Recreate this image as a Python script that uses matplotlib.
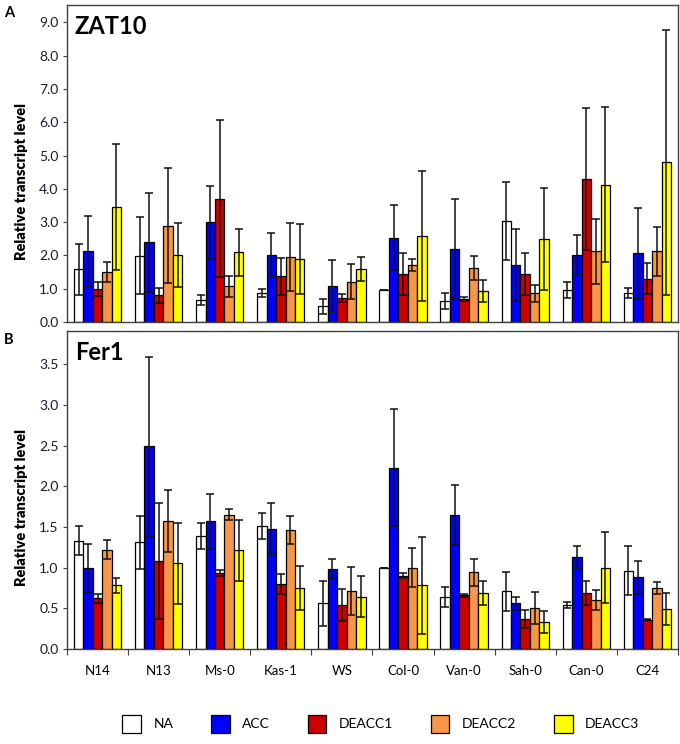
import numpy as np
import matplotlib.pyplot as plt

plt.rcParams['font.family'] = ['Lato', 'DejaVu Sans']

accessions = ["N14", "N13", "Ms-0", "Kas-1", "WS", "Col-0", "Van-0", "Sah-0", "Can-0", "C24"]
treatments = ["NA", "ACC", "DEACC1", "DEACC2", "DEACC3"]
colors = ["#FFFFFF", "#0000FF", "#CC0000", "#F79646", "#FFFF00"]

# ZAT10 means / sd
zat10_na = [1.58, 1.99, 0.66, 0.88, 0.47, 0.97, 0.63, 3.04, 0.97, 0.86]
zat10_acc = [2.13, 2.39, 3.00, 2.02, 1.08, 2.53, 2.19, 1.71, 2.02, 2.06]
zat10_deacc1 = [0.99, 0.80, 3.71, 1.37, 0.71, 1.44, 0.69, 1.44, 4.29, 1.30]
zat10_deacc2 = [1.51, 2.90, 1.07, 1.95, 1.21, 1.71, 1.62, 0.86, 2.12, 2.12]
zat10_deacc3 = [3.45, 2.02, 2.09, 1.89, 1.58, 2.59, 0.93, 2.50, 4.13, 4.80]
zat10_na_sd = [0.76, 1.16, 0.14, 0.12, 0.23, 0.0, 0.24, 1.17, 0.24, 0.15]
zat10_acc_sd = [1.05, 1.48, 1.10, 0.65, 0.79, 0.98, 1.50, 1.09, 0.59, 1.36]
zat10_deacc1_sd = [0.20, 0.23, 2.35, 0.55, 0.12, 0.62, 0.05, 0.62, 2.14, 0.46]
zat10_deacc2_sd = [0.30, 1.72, 0.31, 1.02, 0.52, 0.18, 0.37, 0.25, 0.97, 0.73]
zat10_deacc3_sd = [1.90, 0.97, 0.72, 1.06, 0.36, 1.95, 0.32, 1.53, 2.33, 3.98]

# Fer1 means / sd
fer1_na = [1.33, 1.31, 1.39, 1.51, 0.56, 1.00, 0.64, 0.71, 0.54, 0.96]
fer1_acc = [0.99, 2.49, 1.57, 1.47, 0.98, 2.23, 1.65, 0.56, 1.13, 0.88]
fer1_deacc1 = [0.62, 1.08, 0.93, 0.80, 0.54, 0.90, 0.66, 0.37, 0.69, 0.36]
fer1_deacc2 = [1.22, 1.57, 1.65, 1.46, 0.71, 1.00, 0.94, 0.50, 0.60, 0.75]
fer1_deacc3 = [0.78, 1.05, 1.21, 0.75, 0.64, 0.78, 0.69, 0.33, 1.00, 0.49]
fer1_na_sd = [0.18, 0.33, 0.16, 0.16, 0.28, 0.0, 0.12, 0.24, 0.04, 0.30]
fer1_acc_sd = [0.30, 1.10, 0.34, 0.32, 0.12, 0.72, 0.37, 0.08, 0.14, 0.20]
fer1_deacc1_sd = [0.06, 0.71, 0.04, 0.12, 0.20, 0.03, 0.02, 0.11, 0.15, 0.01]
fer1_deacc2_sd = [0.12, 0.38, 0.07, 0.17, 0.30, 0.24, 0.17, 0.20, 0.12, 0.07]
fer1_deacc3_sd = [0.09, 0.50, 0.37, 0.27, 0.25, 0.60, 0.15, 0.14, 0.44, 0.20]

zat10 = [zat10_na, zat10_acc, zat10_deacc1, zat10_deacc2, zat10_deacc3]
zat10_sd = [zat10_na_sd, zat10_acc_sd, zat10_deacc1_sd, zat10_deacc2_sd, zat10_deacc3_sd]
fer1 = [fer1_na, fer1_acc, fer1_deacc1, fer1_deacc2, fer1_deacc3]
fer1_sd = [fer1_na_sd, fer1_acc_sd, fer1_deacc1_sd, fer1_deacc2_sd, fer1_deacc3_sd]

fig = plt.figure(figsize=(6.8, 7.44), dpi=100)
ax_a = fig.add_axes([0.0985, 0.567, 0.8985, 0.426])
ax_b = fig.add_axes([0.0985, 0.128, 0.8985, 0.427])

x = np.arange(len(accessions))
w = 0.155
frame = "#404040"


def draw(ax, means, sds, ymax, step, title):
    for i, (m, s) in enumerate(zip(means, sds)):
        ax.bar(x + (i - 2) * w, m, w, color=colors[i], edgecolor="black", lw=0.9,
               label=treatments[i], zorder=2)
        ax.errorbar(x + (i - 2) * w, m, yerr=s, fmt="none", ecolor="#111111",
                    elinewidth=1.1, capsize=2.6, capthick=1.1, zorder=3)
    ax.set_xlim(-0.5, len(accessions) - 0.5)
    ax.set_ylim(0, ymax)
    ticks = np.arange(0, ymax, step)
    ax.set_yticks(ticks)
    ax.set_yticklabels([f"{t:.1f}" for t in ticks], fontsize=10, color="#1a1a2e")
    ax.tick_params(axis="y", length=3, width=0.8, color=frame, pad=3)
    for sp in ax.spines.values():
        sp.set_color(frame)
        sp.set_linewidth(1.0)
    ax.set_ylabel("Relative transcript level", fontsize=10.5, fontweight="heavy")
    ax.yaxis.set_label_coords(-0.064, 0.445)
    ax.text(0.013, 0.97, title, transform=ax.transAxes, fontsize=17,
            fontweight="bold", va="top", ha="left")


draw(ax_a, zat10, zat10_sd, 9.51, 1.0, "ZAT10")
draw(ax_b, fer1, fer1_sd, 3.91, 0.5, "Fer1")

ax_a.set_xticks([])
ax_b.set_xticks(x)
ax_b.set_xticklabels(accessions, fontsize=9.5)
ax_b.tick_params(axis="x", which="major", length=0, pad=12)
ax_b.set_xticks(np.arange(-0.5, len(accessions)), minor=True)
ax_b.tick_params(axis="x", which="minor", length=4, width=0.8, color=frame)

fig.text(0.006, 0.983, "A", fontsize=10.5, fontweight="bold", va="center")
fig.text(0.006, 0.543, "B", fontsize=10.5, fontweight="bold", va="center")

handles, labels = ax_b.get_legend_handles_labels()
fig.legend(handles, labels, loc="center", bbox_to_anchor=(0.56, 0.027), ncol=5,
           frameon=False, fontsize=10, handlelength=1.35, handleheight=1.7,
           columnspacing=2.7, handletextpad=0.9)

fig.savefig("out.png", dpi=100)
